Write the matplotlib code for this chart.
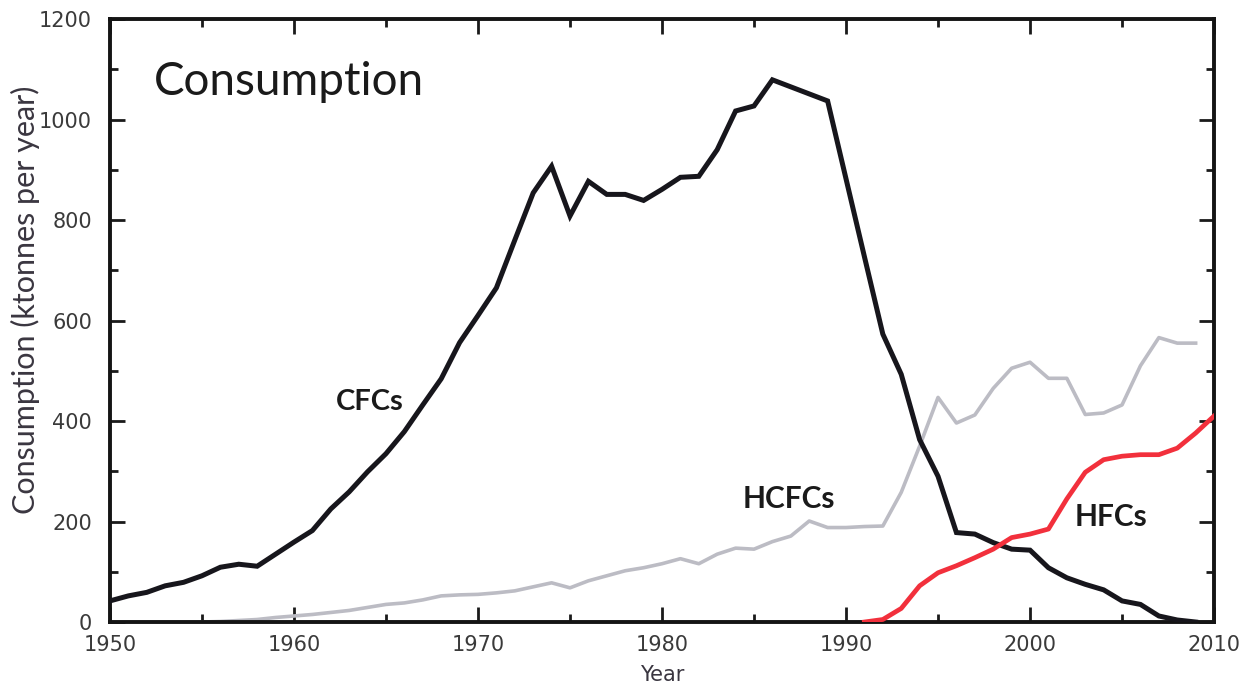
import matplotlib
matplotlib.use("Agg")
import matplotlib.pyplot as plt
from matplotlib.ticker import MultipleLocator

# Data (ktonnes per year)
cfc_years = list(range(1950, 2010))
cfc_values = [42, 52, 59, 72, 79, 92, 109, 115, 111, 135,
              159, 182, 225, 259, 299, 335, 379, 432, 484, 556,
              610, 665, 760, 854, 907, 808, 877, 851, 851, 839,
              861, 885, 887, 940, 1017, 1027, 1079, 1065, 1051, 1037,
              882, 727, 573, 493, 363, 290, 178, 175, 158, 145,
              143, 108, 88, 75, 64, 42, 35, 12, 4, 0]

hcfc_years = list(range(1955, 2010))
hcfc_values = [0, 1, 3, 5, 9,
               12, 15, 19, 23, 29, 35, 38, 44, 52, 54,
               55, 58, 62, 70, 78, 68, 82, 92, 102, 108,
               116, 126, 116, 135, 147, 145, 160, 171, 201, 188,
               188, 190, 191, 258, 350, 447, 396, 412, 465, 505,
               517, 485, 485, 413, 416, 432, 510, 566, 555, 555]

hfc_years = list(range(1991, 2011))
hfc_values = [0, 5, 27, 72, 98, 112, 128, 145, 168, 175,
              185, 245, 298, 323, 330, 333, 333, 346, 376, 410]

plt.rcParams['font.family'] = ['Lato', 'DejaVu Sans']

fig = plt.figure(figsize=(12.48, 6.87), dpi=100)
ax = fig.add_axes([0.0881, 0.0946, 0.8847, 0.8777])

ax.plot(cfc_years, cfc_values, color='#17161c', lw=3.6, solid_joinstyle='miter', zorder=3)
ax.plot(hcfc_years, hcfc_values, color='#bcbcc4', lw=2.6, zorder=2)
ax.plot(hfc_years, hfc_values, color='#f2303c', lw=3.4, zorder=4)

ax.set_xlim(1950, 2010)
ax.set_ylim(0, 1200)
ax.xaxis.set_major_locator(MultipleLocator(10))
ax.xaxis.set_minor_locator(MultipleLocator(5))
ax.yaxis.set_major_locator(MultipleLocator(200))
ax.yaxis.set_minor_locator(MultipleLocator(100))
ax.tick_params(which='both', direction='in', top=True, right=True,
               color='#1a1a1a', width=2)
ax.tick_params(which='major', length=11)
ax.tick_params(which='minor', length=6)
ax.tick_params(axis='x', which='major', pad=9.5)
ax.tick_params(axis='y', which='major', pad=13)
for lab in ax.get_xticklabels() + ax.get_yticklabels():
    lab.set_family('DejaVu Sans')
    lab.set_fontsize(15)
    lab.set_color('#3a3a3a')
for s in ax.spines.values():
    s.set_linewidth(2.8)
    s.set_color('#141414')

ax.set_xlabel('Year', fontsize=15, color='#3a3640', family='DejaVu Sans')
ax.xaxis.set_label_coords(0.5, -0.071)
ax.set_ylabel('Consumption (ktonnes per year)', fontsize=22, color='#3a3640')
ax.yaxis.set_label_coords(-0.063, 0.535)

ax.text(1952.4, 1075, 'Consumption', fontsize=33, color='#1a1a1a', va='center')
ax.text(1962.3, 437, 'CFCs', fontsize=21, fontweight='bold', color='#1a1a1a', va='center')
ax.text(1984.4, 245, 'HCFCs', fontsize=21.5, fontweight='bold', color='#1a1a1a', va='center')
ax.text(2002.4, 208, 'HFCs', fontsize=21.5, fontweight='bold', color='#1a1a1a', va='center')

fig.savefig('out.png', dpi=100)
